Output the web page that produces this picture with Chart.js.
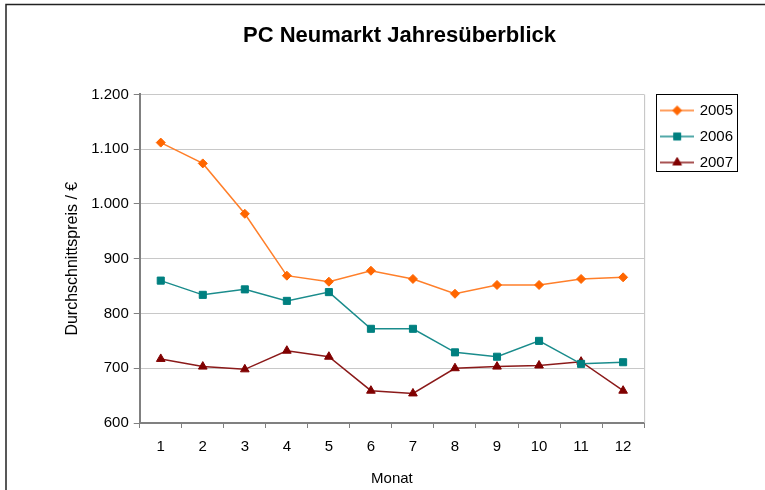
<!DOCTYPE html>
<html>
<head>
<meta charset="utf-8">
<script src="https://cdn.jsdelivr.net/npm/chart.js@4/dist/chart.umd.min.js"></script>
<style>
    body { margin: 0; background: #ffffff; }
    #box { position: relative; width: 765px; height: 490px; }
</style>
</head>
<body>
<div id="box"><canvas id="chart" width="765" height="490"></canvas></div>
<script>

// Daten
const monate = ['1', '2', '3', '4', '5', '6', '7', '8', '9', '10', '11', '12'];
const jahre = ['2005', '2006', '2007'];
const preise2005 = [1112, 1074, 982, 869, 858, 878, 863, 836, 852, 852, 863, 866];
const preise2006 = [860, 834, 844, 823, 839, 772, 772, 729, 721, 750, 708, 711];
const preise2007 = [717, 703, 698, 732, 721, 659, 654, 700, 703, 705, 712, 659];

const farben = ['#ff6600', '#008080', '#800000'];
const linien = ['#ff7f2a', '#1a8c8c', '#8b1a1a'];
const formen = ['rectRot', 'rect', 'triangle'];
const radien = [4.5, 5, 5];

const schrift = "'Liberation Sans', Arial, sans-serif";


// Kleines Bild für die Legende: Linie mit Marker in der Mitte
function legendenBild(i) {
    const c = document.createElement('canvas');
    c.width = 34;
    c.height = 12;
    const ctx = c.getContext('2d');
    ctx.strokeStyle = linien[i];
    ctx.lineWidth = 1.5;
    ctx.beginPath();
    ctx.moveTo(0, 6);
    ctx.lineTo(34, 6);
    ctx.stroke();
    ctx.fillStyle = farben[i];
    ctx.strokeStyle = farben[i];
    ctx.lineWidth = 1;
    Chart.helpers.drawPoint(ctx, {pointStyle: formen[i], radius: radien[i], rotation: 0, borderWidth: 1}, 17, 6);
    return c;
}


// Rahmen um das Diagramm, rechte Kante der Zeichenfläche und Rahmen der Legende
const rahmenPlugin = {
    id: 'rahmen',
    afterLayout(chart) {
        //Legende etwas nach rechts und nach unten schieben
        const leg = chart.legend;
        leg.left += 7;
        leg.right += 7;
        leg.top += 92;
        leg.bottom += 92;
    },
    beforeDraw(chart) {
        const ctx = chart.ctx;
        ctx.save();
        ctx.strokeStyle = '#222222';
        ctx.lineWidth = 1.5;
        ctx.beginPath();
        ctx.moveTo(6, 490);
        ctx.lineTo(6, 4.5);
        ctx.lineTo(765, 4.5);
        ctx.stroke();
        ctx.restore();
    },
    afterDraw(chart) {
        const ctx = chart.ctx;
        const a = chart.chartArea;
        ctx.save();
        ctx.strokeStyle = '#c0c0c0';
        ctx.lineWidth = 1;
        ctx.beginPath();
        ctx.moveTo(a.right + 0.5, a.top);
        ctx.lineTo(a.right + 0.5, a.bottom);
        ctx.stroke();

        const boxes = chart.legend.legendHitBoxes;
        if (boxes && boxes.length) {
            let l = Infinity, t = Infinity, r = -Infinity, b = -Infinity;
            boxes.forEach(h => {
                l = Math.min(l, h.left);
                t = Math.min(t, h.top);
                r = Math.max(r, h.left + h.width);
                b = Math.max(b, h.top + h.height);
            });
            ctx.strokeStyle = '#000000';
            ctx.lineWidth = 1;
            ctx.strokeRect(Math.round(l - 6) + 0.5, Math.round(t - 9) + 0.5, Math.round(r - l + 10), Math.round(b - t + 10));
        }
        ctx.restore();
    }
};


const reihen = [preise2005, preise2006, preise2007];

const datasets = reihen.map((werte, i) => ({
    label: jahre[i],
    data: werte,
    borderColor: linien[i],
    backgroundColor: farben[i],
    borderWidth: 1.5,
    pointStyle: formen[i],
    pointRadius: radien[i],
    pointHoverRadius: radien[i],
    pointBackgroundColor: farben[i],
    pointBorderColor: farben[i],
    pointBorderWidth: 1,
    tension: 0
}));


new Chart(document.getElementById('chart'), {
    type: 'line',
    data: {
        labels: monate,
        datasets: datasets
    },
    plugins: [rahmenPlugin],
    options: {
        responsive: false,
        animation: false,
        layout: {
            padding: {left: 63, right: 29, top: 0, bottom: 2}
        },
        plugins: {
            title: {
                display: true,
                text: 'PC Neumarkt Jahresüberblick',
                color: '#000000',
                font: {family: schrift, size: 22, weight: 'bold'},
                padding: {top: 23, bottom: 45}
            },
            legend: {
                position: 'right',
                align: 'start',
                labels: {
                    color: '#000000',
                    font: {family: schrift, size: 15},
                    usePointStyle: true,
                    pointStyleWidth: 30,
                    padding: 11,
                    generateLabels: (chart) => chart.data.datasets.map((ds, i) => ({
                        text: ds.label,
                        pointStyle: legendenBild(i),
                        fillStyle: farben[i],
                        strokeStyle: farben[i],
                        lineWidth: 0,
                        fontColor: '#000000',
                        datasetIndex: i
                    }))
                }
            },
            tooltip: {enabled: false}
        },
        scales: {
            x: {
                offset: true,
                grid: {
                    offset: true,
                    drawOnChartArea: false,
                    color: '#808080',
                    tickLength: 5
                },
                border: {color: '#808080', width: 2},
                ticks: {
                    color: '#000000',
                    font: {family: schrift, size: 15},
                    padding: 10,
                    maxRotation: 0
                },
                title: {
                    display: true,
                    text: 'Monat',
                    color: '#000000',
                    font: {family: schrift, size: 15},
                    padding: {top: 4, bottom: 0}
                }
            },
            y: {
                min: 600,
                max: 1200,
                grid: {
                    color: '#c8c8c8',
                    tickColor: '#808080',
                    tickLength: 6
                },
                border: {color: '#808080', width: 2},
                ticks: {
                    stepSize: 100,
                    color: '#000000',
                    font: {family: schrift, size: 15},
                    padding: 5,
                    callback: (v) => String(v).replace(/\B(?=(\d{3})+(?!\d))/g, '.')
                },
                title: {
                    display: true,
                    text: 'Durchschnittspreis / €',
                    color: '#000000',
                    font: {family: schrift, size: 16},
                    padding: {top: 0, bottom: 4}
                }
            }
        }
    }
});
</script>
</body>
</html>
